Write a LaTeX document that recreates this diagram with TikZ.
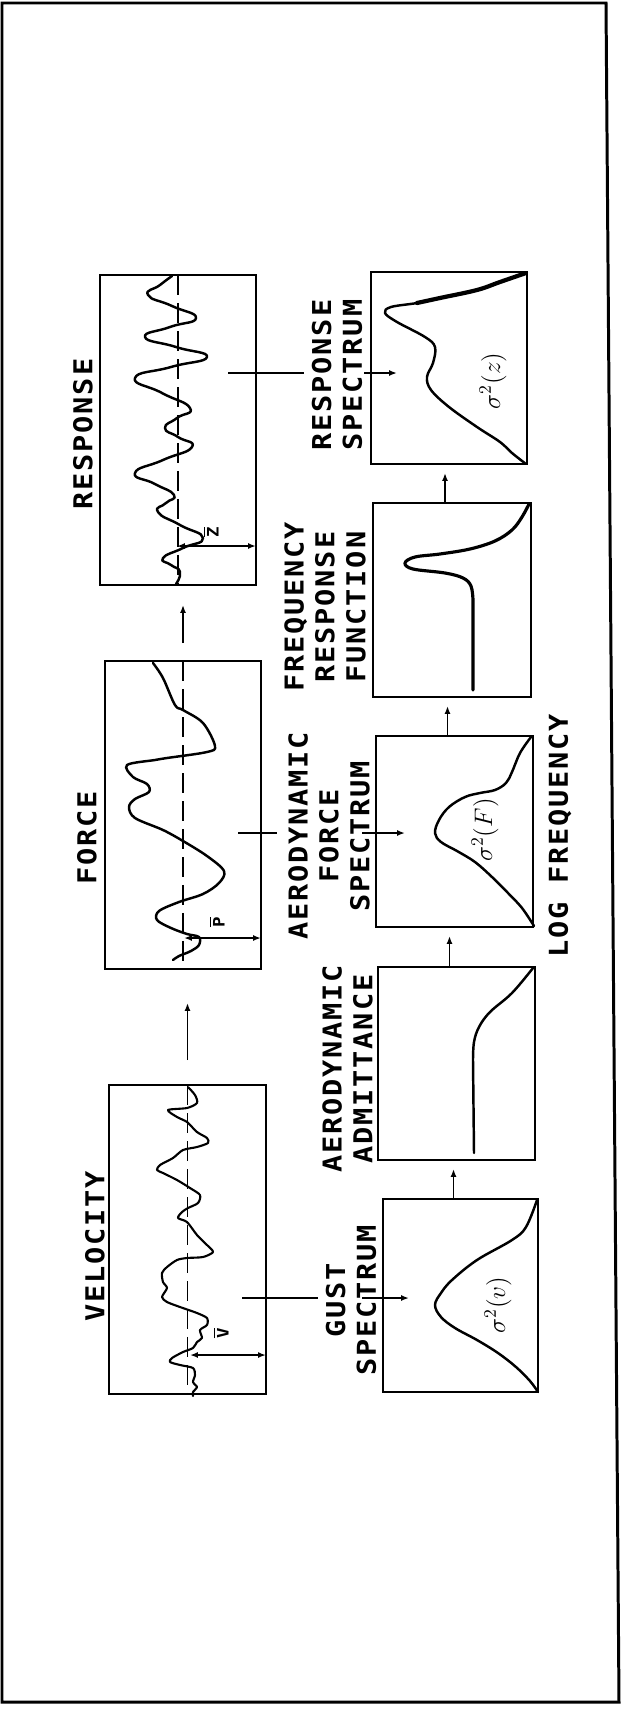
\documentclass[tikz,border=0pt]{standalone}
\usepackage{fontspec}
\usetikzlibrary{arrows.meta,calc}
\newfontfamily\lblfont{DejaVu Sans Mono}[FakeStretch=1.1,LetterSpace=7.0]
\newcommand\barlbl[1]{\ensuremath{\overline{\mbox{#1}}}}
\begin{document}
\begin{tikzpicture}[x=0.02cm,y=-0.02cm,
  box/.style={draw,line width=1.5pt,inner sep=0pt,outer sep=0pt,rectangle},
  lbl/.style={rotate=90,font=\lblfont\bfseries\fontsize{14.8}{17.6}\selectfont,align=center,inner sep=0pt},
  meanline/.style={line width=0.8pt,dash pattern=on 0.4cm off 0.16cm},
  sig/.style={line width=1.4pt,line join=round,line cap=round},
  spec/.style={line width=1.4pt,line join=round,line cap=round},
  conn/.style={line width=0.9pt,-{Latex[length=4.5pt,width=3.4pt]}},
  plain/.style={line width=0.9pt},
  dbl/.style={line width=0.9pt,{Latex[length=4.5pt,width=3.4pt]}-{Latex[length=4.5pt,width=3.4pt]}},
  sym/.style={rotate=90,font=\fontsize{14.4}{16}\selectfont,inner sep=0pt},
  barl/.style={rotate=90,font=\lblfont\bfseries\fontsize{9}{10}\selectfont,inner sep=0pt}]
\fill[white] (0,0) rectangle (621,1710);
\useasboundingbox (0,0) rectangle (621,1710);
% outer frame
\draw[line width=1.7pt] (2,3) -- (606,3) -- (619,1702) -- (2,1702) -- cycle;
% boxes
\node[box,minimum width=3.14cm,minimum height=6.18cm] (vel) at (187.5,1239.5) {};
\node[box,minimum width=3.12cm,minimum height=6.16cm] (force) at (183,815) {};
\node[box,minimum width=3.12cm,minimum height=6.20cm] (resp) at (178,430) {};
\node[box,minimum width=3.10cm,minimum height=3.86cm] (gust) at (460.5,1295.5) {};
\node[box,minimum width=3.14cm,minimum height=3.86cm] (admit) at (456.5,1063.5) {};
\node[box,minimum width=3.14cm,minimum height=3.82cm] (afs) at (454.5,831.5) {};
\node[box,minimum width=3.16cm,minimum height=3.88cm] (frf) at (452,600) {};
\node[box,minimum width=3.12cm,minimum height=3.84cm] (rspec) at (449,368) {};
% mean lines
\draw[meanline] (vel.north) -- (vel.south);
\draw[meanline] (force.north) -- (force.south);
\draw[meanline] (resp.north) -- (resp.south);
% velocity signal
\draw[sig,line width=1.2pt] plot[smooth,tension=0.45] coordinates {
(188,1087) (195,1095) (197,1103) (187,1108) (168,1110) (177,1117) (187,1122) (197,1132)
(207,1138) (208,1143) (197,1147) (183,1150) (173,1158) (160,1165) (157,1170) (163,1173)
(177,1180) (190,1188) (200,1195) (198,1203) (188,1208) (182,1212) (178,1218) (187,1222)
(197,1235) (207,1245) (213,1252) (203,1257) (187,1258) (177,1260) (167,1267) (162,1273)
(163,1282) (167,1288) (162,1297) (167,1302) (180,1307) (197,1313) (207,1318) (207,1325)
(200,1330) (202,1338) (197,1342) (193,1348) (183,1352) (172,1358) (170,1362) (180,1365)
(193,1368) (195,1375) (193,1382) (197,1387) (193,1392) (193,1396)};
% force signal
\draw[sig] plot[smooth,tension=0.55] coordinates {
(153,663) (163,678) (175,705) (183,710) (203,723) (215,746) (207,752) (167,758) (155,760)
(127,765) (133,777) (147,784) (149,792) (135,799) (129,807) (135,818) (163,830) (183,841)
(207,856) (224,871) (219,883) (203,894) (179,902) (159,911) (157,920) (171,928) (187,934)
(199,937) (199,945) (191,951) (179,956) (173,960)};
% response signal
\draw[sig] plot[smooth,tension=0.95] coordinates {
(172,276) (160,285) (148,295) (172,306) (196,318) (170,327) (145,337) (176,347) (207,357)
(171,367) (135,378) (162,393) (190,408) (177,418) (165,428) (178,437) (192,447) (163,460)
(135,473) (155,484) (174,495) (166,503) (158,512) (180,525) (203,538) (183,548) (163,558)
(171,565) (180,572) (176,584)};
% spectra curves
\draw[spec] plot[smooth,tension=0.6] coordinates {
(537,1200) (526,1227) (512,1240) (477,1260) (452,1280) (441,1293) (435,1305) (441,1317)
(455,1328) (477,1340) (498,1353) (516,1367) (530,1381) (538,1392)};
\draw[spec] plot[smooth,tension=0.6] coordinates {
(533,968) (512,993) (490,1012) (479,1027) (474,1042) (473,1060)} -- (474,1153);
\draw[spec] plot[smooth,tension=0.6] coordinates {
(531,737) (520,753) (512,772) (506,783) (495,790) (480,793) (465,797) (449,807) (439,820)
(435,833) (441,842) (457,851) (475,862) (492,877) (508,893) (522,908) (534,926)};
\draw[spec,line width=1.8pt] plot[smooth,tension=0.6] coordinates {
(529,504) (522,517) (512,530) (495,541) (470,549) (440,554) (415,557) (405,563) (413,569)
(445,573) (463,578) (471,586) (473,600)} -- (473,690);
\draw[spec] plot[smooth,tension=0.6] coordinates {
(526,273) (500,282) (477,290) (440,298) (417,303) (391,307) (385,313) (397,322) (425,337)
(435,347) (433,363) (427,377) (431,390) (449,407) (477,427) (500,442) (512,453) (526,464)};
\draw[spec,line width=2.4pt] plot[smooth,tension=0.6] coordinates {
(526,273) (500,282) (477,290) (440,298) (417,303)};
% connectors between time histories
\draw[conn,shorten <=0.5cm,shorten >=0.68cm] (vel.north) -- (vel.north |- force.south);
\draw[conn,shorten <=0.36cm,shorten >=0.4cm] (force.north) -- (force.north |- resp.south);
% connectors time history -> spectrum
\coordinate (vg) at (242,1298); \coordinate (vg1) at (318,1298);
\coordinate (vg2) at (362,1298); \coordinate (vgE) at (409,1298);
\draw[plain] (vg) -- (vg1); \draw[conn] (vg2) -- (vgE);
\coordinate (fa) at (238,833); \coordinate (fa1) at (277,833);
\coordinate (fa2) at (362,833); \coordinate (faE) at (405,833);
\draw[plain] (fa) -- (fa1); \draw[conn] (fa2) -- (faE);
\coordinate (ra) at (228,373); \coordinate (ra1) at (304,373);
\coordinate (ra2) at (364,373); \coordinate (raE) at (397,373);
\draw[plain] (ra) -- (ra1); \draw[conn] (ra2) -- (raE);
% connectors between spectra
\draw[conn,shorten >=0.18cm] ($(gust.north)+(-7,0)$) -- ($(gust.north |- admit.south)+(-7,0)$);
\draw[conn,shorten >=0.18cm] ($(admit.north)+(-7,0)$) -- ($(admit.north |- afs.south)+(-7,0)$);
\draw[conn,shorten >=0.18cm] ($(afs.north)+(-7,0)$) -- ($(afs.north |- frf.south)+(-7,0)$);
\draw[conn,shorten >=0.18cm] ($(frf.north)+(-7,0)$) -- ($(frf.north |- rspec.south)+(-7,0)$);
% mean value arrows
\coordinate (vm) at (190,1355); \draw[dbl] (vm) -- (vm -| vel.east);
\coordinate (pm) at (184,938); \draw[dbl] (pm) -- (pm -| force.east);
\coordinate (zm) at (177,546); \draw[dbl] (zm) -- (zm -| resp.east);
\node[barl] (lv) at (221,1333) {\barlbl{V}};
\node[barl] (lp) at (217,922) {\barlbl{P}};
\node[barl] (lz) at (211,532) {\barlbl{Z}};
% labels
\node[lbl] (tvel) at (95,1246) {VELOCITY};
\node[lbl] (tforce) at (87,838) {FORCE};
\node[lbl] (tresp) at (83,434) {RESPONSE};
\node[lbl] (tgust) at (351,1300) {GUST\\SPECTRUM};
\node[lbl] (tadm) at (347.5,1069) {AERODYNAMIC\\ADMITTANCE};
\node[lbl] (tafs) at (329,836) {AERODYNAMIC\\FORCE\\SPECTRUM};
\node[lbl] (tfrf) at (325,607) {FREQUENCY\\RESPONSE\\FUNCTION};
\node[lbl] (trs) at (337,375) {RESPONSE\\SPECTRUM};
\node[lbl] (tlog) at (560,836) {LOG FREQUENCY};
\node[sym] (sv) at (498,1305) {$\sigma^2(v)$};
\node[sym] (sf) at (485,830) {$\sigma^2(F)$};
\node[sym] (sz) at (493,381) {$\sigma^2(z)$};
\end{tikzpicture}
\end{document}
